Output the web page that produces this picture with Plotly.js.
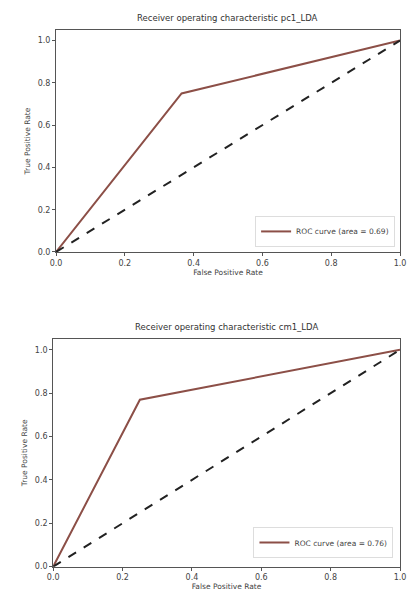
<!DOCTYPE html>
<html>
<head>
<meta charset="utf-8">
<script src="https://cdn.plot.ly/plotly-3.0.1.min.js"></script>
<style>html,body{margin:0;padding:0;background:#fff;}#chart{width:409px;height:595px;}</style>
</head>
<body>
<div id="chart"></div>
<script>
// ROC data
const fprPc1 = [0.0, 0.365, 1.0];
const tprPc1 = [0.0, 0.75, 1.0];
const fprCm1 = [0.0, 0.25, 1.0];
const tprCm1 = [0.0, 0.77, 1.0];
const chanceLine = [0.0, 1.0];
const titles = ["Receiver operating characteristic pc1_LDA", "Receiver operating characteristic cm1_LDA"];
const legendNames = ["ROC curve (area = 0.69)", "ROC curve (area = 0.76)"];
const tickVals = [0, 0.2, 0.4, 0.6, 0.8, 1.0];
const tickText = ["0.0", "0.2", "0.4", "0.6", "0.8", "1.0"];

const curveColor = "#8c4f47";
const font = {family: "DejaVu Sans", size: 8, color: "#444"};

const traces = [
  {x: fprPc1, y: tprPc1, xaxis: "x", yaxis: "y", mode: "lines", name: legendNames[0],
   line: {color: curveColor, width: 2}, legend: "legend"},
  {x: chanceLine, y: chanceLine, xaxis: "x", yaxis: "y", mode: "lines", showlegend: false,
   line: {color: "#222", width: 2, dash: "dash"}},
  {x: fprCm1, y: tprCm1, xaxis: "x2", yaxis: "y2", mode: "lines", name: legendNames[1],
   line: {color: curveColor, width: 2}, legend: "legend2"},
  {x: chanceLine, y: chanceLine, xaxis: "x2", yaxis: "y2", mode: "lines", showlegend: false,
   line: {color: "#222", width: 2, dash: "dash"}}
];

function xax(domain, anchor) {
  return {domain: domain, anchor: anchor, range: [0, 1], tickvals: tickVals, ticktext: tickText,
    ticks: "outside", ticklen: 3, tickcolor: "#555", showline: true, mirror: true, linecolor: "#555", linewidth: 1,
    showgrid: false, zeroline: false, tickfont: font,
    title: {text: "False Positive Rate", font: {family: "DejaVu Sans", size: 7.5, color: "#444"}, standoff: 1}};
}
function yax(domain, anchor) {
  return {domain: domain, anchor: anchor, range: [0, 1.05], tickvals: tickVals, ticktext: tickText,
    ticks: "outside", ticklen: 3, tickcolor: "#555", showline: true, mirror: true, linecolor: "#555", linewidth: 1,
    showgrid: false, zeroline: false, tickfont: font,
    title: {text: "True Positive Rate", font: {family: "DejaVu Sans", size: 7.5, color: "#444"}, standoff: 6}};
}
const legendStyle = {xanchor: "right", yanchor: "bottom", bgcolor: "rgba(255,255,255,0.9)",
  bordercolor: "#ddd", borderwidth: 1, font: {family: "DejaVu Sans", size: 7.5, color: "#444"},
  itemwidth: 30, tracegroupgap: 0};

const layout = {
  width: 409, height: 595,
  margin: {l: 0, r: 0, t: 0, b: 0},
  paper_bgcolor: "#fff", plot_bgcolor: "#fff",
  xaxis: xax([0.137, 0.978], "y"),
  yaxis: yax([0.5765, 0.9496], "x"),
  xaxis2: xax([0.130, 0.978], "y2"),
  yaxis2: yax([0.0476, 0.4303], "x2"),
  legend: Object.assign({x: 0.966, y: 0.585}, legendStyle),
  legend2: Object.assign({x: 0.962, y: 0.062}, legendStyle),
  annotations: [
    {text: titles[0], x: 0.557, y: 1 - 25/595, xref: "paper", yref: "paper", yanchor: "bottom", showarrow: false,
     font: {family: "DejaVu Sans", size: 8.5, color: "#333"}},
    {text: titles[1], x: 0.553, y: 1 - 334/595, xref: "paper", yref: "paper", yanchor: "bottom", showarrow: false,
     font: {family: "DejaVu Sans", size: 8.5, color: "#333"}}
  ],
  showlegend: true
};

Plotly.newPlot("chart", traces, layout, {displayModeBar: false, staticPlot: true});
</script>
</body>
</html>
